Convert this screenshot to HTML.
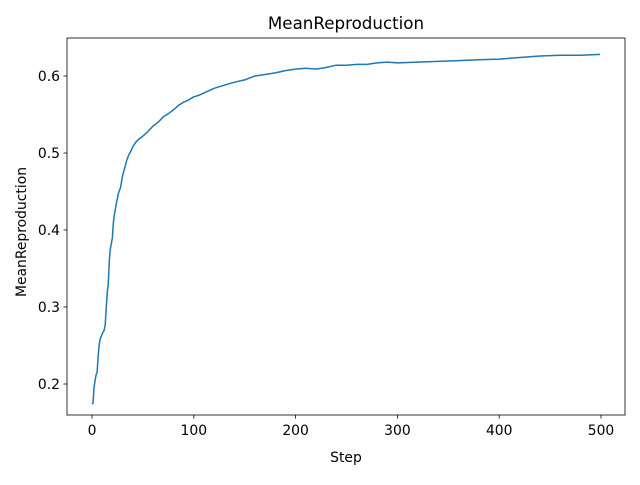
<!DOCTYPE html>
<html><head><meta charset="utf-8"><style>
body{margin:0;background:#fff;font-family:"Liberation Sans","DejaVu Sans",sans-serif;}
svg text{font-family:"DejaVu Sans","Liberation Sans",sans-serif;fill:#000;}
</style></head><body>
<svg id="chart" width="640" height="480" viewBox="0 0 640 480">
<rect width="640" height="480" fill="#fff"/>
<text x="346" y="29" font-size="16.7" text-anchor="middle">MeanReproduction</text>
<g id="plot"></g>
<rect x="67" y="38" width="558" height="377" fill="none" stroke="#000" stroke-width="0.8"/>
<text x="346" y="462" font-size="13.9" text-anchor="middle">Step</text>
<text x="0" y="0" font-size="13.9" text-anchor="middle" transform="translate(26,232) rotate(-90)">MeanReproduction</text>
</svg>
<script>
const steps=[0,1,2,3,4,5,6,7,8,10,12,13,14,15,16,17,18,20,21,22,24,26,28,30,32,34,36,38,40,43,46,50,55,60,65,70,75,80,85,90,95,100,105,110,120,130,140,150,160,170,180,190,200,210,220,230,240,250,260,270,280,290,300,320,340,360,380,400,420,440,460,480,499];
const values=[.174,.175,.195,.205,.212,.215,.235,.25,.258,.265,.27,.277,.3,.32,.33,.36,.375,.39,.41,.42,.435,.448,.455,.47,.48,.49,.497,.502,.508,.514,.518,.522,.528,.535,.54,.547,.551,.556,.562,.566,.569,.573,.575,.578,.584,.588,.592,.595,.6,.602,.604,.607,.609,.61,.609,.611,.614,.614,.615,.615,.617,.618,.617,.618,.619,.62,.621,.622,.624,.626,.627,.627,.628];
const xTicks=[0,100,200,300,400,500];
const yTicks=[0.2,0.3,0.4,0.5,0.6];
const yTickLabels=["0.2","0.3","0.4","0.5","0.6"];
const NS="http://www.w3.org/2000/svg";
const g=document.getElementById('plot');
const xs=v=>92+v*1.018;
const ys=v=>76+(0.6-v)*770;
function mk(t,a){const e=document.createElementNS(NS,t);for(const k in a)e.setAttribute(k,a[k]);g.appendChild(e);return e;}
xTicks.forEach(t=>{
 const l=mk('line',{x1:xs(t),x2:xs(t),y1:415,y2:418.5,stroke:'#000','stroke-width':0.8});
 
 
 const tx=mk('text',{x:xs(t),y:435,'font-size':13.9,'text-anchor':'middle'});tx.textContent=t;
 
 
});
yTicks.forEach((t,i)=>{
 const l=mk('line',{x1:63.5,x2:67,y1:ys(t),y2:ys(t),stroke:'#000','stroke-width':0.8});
 
 
 const tx=mk('text',{x:60,y:ys(t)+5,'font-size':13.9,'text-anchor':'end'});tx.textContent=yTickLabels[i];
 
 
});
const p=mk('polyline',{points:steps.map((s,i)=>xs(s).toFixed(1)+','+ys(values[i]).toFixed(1)).join(' '),fill:'none',stroke:'#1f77b4','stroke-width':1.5,'stroke-linejoin':'round'});


</script>
</body></html>
